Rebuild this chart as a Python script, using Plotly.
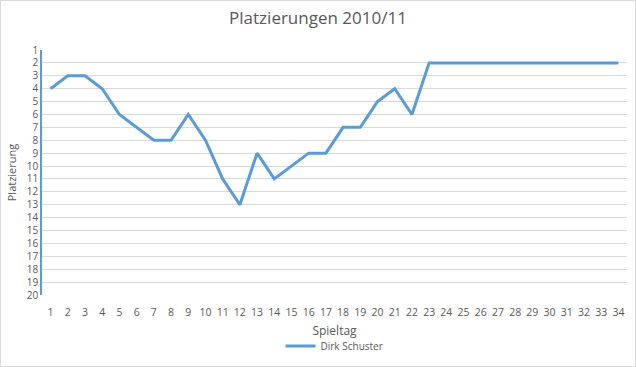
import plotly.graph_objects as go

spieltag = list(range(1, 35))
platz = [4, 3, 3, 4, 6, 7, 8, 8, 6, 8, 11, 13, 9, 11, 10, 9, 9, 7, 7, 5, 4, 6,
         2, 2, 2, 2, 2, 2, 2, 2, 2, 2, 2, 2]
y_ticks = list(range(1, 21))

W, H = 636, 367
ml, mr, mt, mb = 42, 9, 50, 72
pw, ph = W - ml - mr, H - mt - mb

fig = go.Figure()
fig.add_trace(go.Scatter(x=spieltag, y=platz, mode="lines", name="Dirk Schuster",
                         xaxis="x2", yaxis="y",
                         line=dict(color="#5B9BD5", width=3)))

boundaries = [v - 0.5 for v in spieltag] + [spieltag[-1] + 0.5]
xr = [spieltag[0] - 0.5, spieltag[-1] + 0.5]

font = "Open Sans"
fig.update_layout(
    width=W, height=H,
    margin=dict(l=ml, r=mr, t=mt, b=mb, autoexpand=False),
    paper_bgcolor="white", plot_bgcolor="white",
    font=dict(family=font, color="#595959", size=11),
    title=dict(text="Platzierungen 2010/11", x=0.5, xanchor="center", y=1 - 18 / H, yanchor="middle",
               font=dict(size=17, color="#595959", family=font)),
    showlegend=True,
    legend=dict(orientation="h", x=0.5, xanchor="center", y=-(346 - 295) / ph, yanchor="middle",
                font=dict(size=10, color="#595959"), itemwidth=30),
    xaxis=dict(range=xr, tickvals=boundaries, ticktext=[""] * len(boundaries),
               showgrid=False, zeroline=False, showline=True, linecolor="#D9D9D9", linewidth=1,
               ticks="outside", ticklen=5, tickcolor="#D9D9D9", tickwidth=1,
               automargin=False, fixedrange=True),
    xaxis2=dict(range=xr, overlaying="x", side="bottom", anchor="y", matches="x",
                tickvals=spieltag, ticktext=[str(v) for v in spieltag],
                showgrid=False, zeroline=False, showline=False, ticks="",
                tickfont=dict(size=10.5), automargin=False, ticklabelstandoff=9,
                title=dict(text="Spieltag", font=dict(size=12), standoff=9)),
    yaxis=dict(range=[20, 1], tickvals=y_ticks, ticktext=[str(v) for v in y_ticks],
               showgrid=True, gridcolor="#D9D9D9", gridwidth=1, zeroline=False,
               showline=True, linecolor="#5B9BD5", linewidth=1.5, ticks="",
               tickfont=dict(size=10), automargin=False,
               title=dict(text="Platzierung", font=dict(size=11), standoff=8)),
)

fig.add_shape(type="rect", xref="paper", yref="paper",
              x0=(-ml + 0.5) / pw, x1=(pw + mr - 0.5) / pw,
              y0=(-mb + 0.5) / ph, y1=(ph + mt - 0.5) / ph,
              line=dict(color="#D9D9D9", width=1), layer="below")

fig.write_html("out.html", config={"displayModeBar": False},
               post_script="document.body.style.margin='0';document.body.style.overflow='hidden';")
